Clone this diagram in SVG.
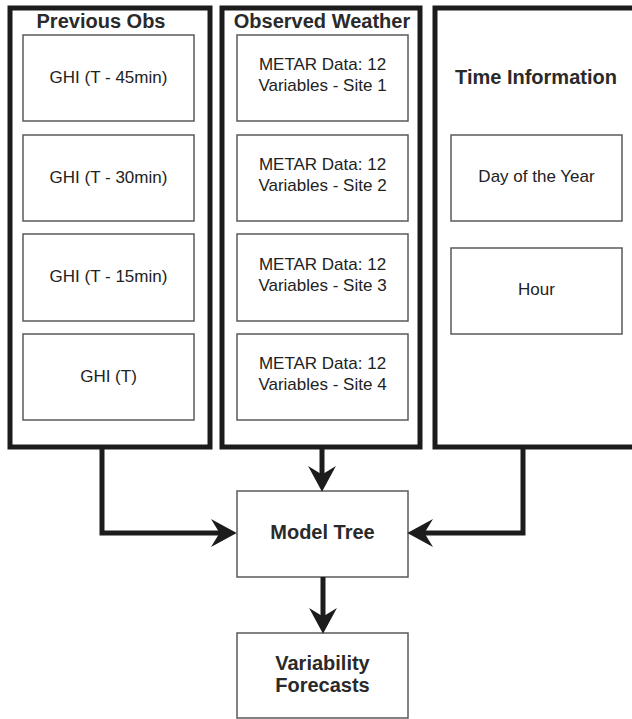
<svg xmlns="http://www.w3.org/2000/svg" width="632" height="719" viewBox="0 0 632 719">
<style>
.outer{fill:#ffffff;stroke:#1c1c1c;stroke-width:5}
.inner{fill:#ffffff;stroke:#5a5a5a;stroke-width:1.5}
.t{font-family:"Liberation Sans",Arial,sans-serif;font-size:17px;fill:#222;text-anchor:middle}
.b{font-family:"Liberation Sans",Arial,sans-serif;font-size:20px;font-weight:bold;fill:#2a2a2a;text-anchor:middle}
.conn{fill:none;stroke:#1c1c1c;stroke-width:5;stroke-linejoin:miter}
</style>
<defs>
<marker id="arr" markerUnits="userSpaceOnUse" markerWidth="30" markerHeight="30" viewBox="-24 -14 26 28" refX="-10" refY="0" orient="auto">
<path d="M0,0 L-24,-13 L-16,0 L-24,13 Z" fill="#1c1c1c"/>
</marker>
</defs>
<rect width="632" height="719" fill="#ffffff"/>

<g id="previous-obs">
<rect class="outer" x="10" y="8" width="200" height="439"/>
<text class="b" x="101" y="28">Previous Obs</text>
<g id="ghi-45"><rect class="inner" x="23" y="35" width="171" height="86"/><text class="t" x="108.5" y="83">GHI (T - 45min)</text></g>
<g id="ghi-30"><rect class="inner" x="23" y="135" width="171" height="86"/><text class="t" x="108.5" y="183">GHI (T - 30min)</text></g>
<g id="ghi-15"><rect class="inner" x="23" y="234" width="171" height="87"/><text class="t" x="108.5" y="282">GHI (T - 15min)</text></g>
<g id="ghi-t"><rect class="inner" x="23" y="334" width="171" height="86"/><text class="t" x="108.5" y="382">GHI (T)</text></g>
</g>

<g id="observed-weather">
<rect class="outer" x="222" y="8" width="198" height="439"/>
<text class="b" x="322" y="28">Observed Weather</text>
<g id="metar-1"><rect class="inner" x="237" y="35" width="171" height="86"/><text class="t" x="322.5" y="70">METAR Data: 12</text><text class="t" x="322.5" y="91">Variables - Site 1</text></g>
<g id="metar-2"><rect class="inner" x="237" y="135" width="171" height="86"/><text class="t" x="322.5" y="170">METAR Data: 12</text><text class="t" x="322.5" y="191">Variables - Site 2</text></g>
<g id="metar-3"><rect class="inner" x="237" y="234" width="171" height="87"/><text class="t" x="322.5" y="270">METAR Data: 12</text><text class="t" x="322.5" y="291">Variables - Site 3</text></g>
<g id="metar-4"><rect class="inner" x="237" y="334" width="171" height="86"/><text class="t" x="322.5" y="369">METAR Data: 12</text><text class="t" x="322.5" y="390">Variables - Site 4</text></g>
</g>

<g id="time-information">
<rect class="outer" x="435" y="8" width="210" height="439"/>
<text class="b" x="536" y="84">Time Information</text>
<g id="day-of-year"><rect class="inner" x="451" y="135" width="171" height="86"/><text class="t" x="536.5" y="182">Day of the Year</text></g>
<g id="hour"><rect class="inner" x="451" y="248" width="171" height="86"/><text class="t" x="536.5" y="295">Hour</text></g>
</g>

<g id="model-tree">
<rect class="inner" x="237" y="491" width="171" height="86"/>
<text class="b" x="322.5" y="539">Model Tree</text>
</g>

<g id="variability-forecasts">
<rect class="inner" x="237" y="633" width="171" height="85"/>
<text class="b" x="322.5" y="670">Variability</text>
<text class="b" x="322.5" y="692">Forecasts</text>
</g>

<g id="connectors">
<path class="conn" d="M102,447 V533 H226" marker-end="url(#arr)"/>
<path class="conn" d="M322,447 V481" marker-end="url(#arr)"/>
<path class="conn" d="M523,447 V533 H418" marker-end="url(#arr)"/>
<path class="conn" d="M323,577 V623" marker-end="url(#arr)"/>
</g>
</svg>
